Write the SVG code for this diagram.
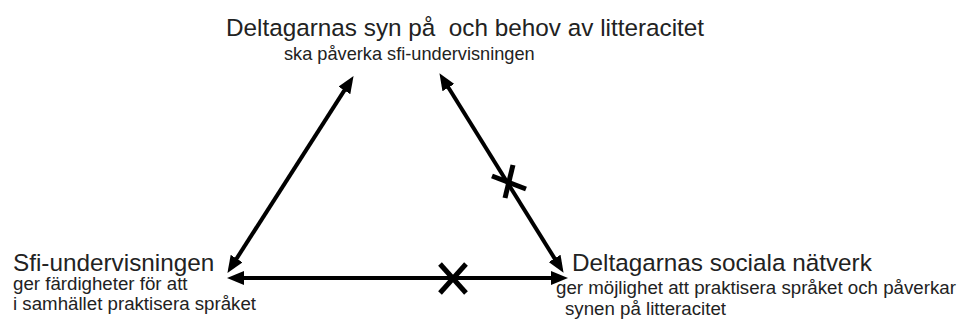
<svg xmlns="http://www.w3.org/2000/svg" width="963" height="322" viewBox="0 0 963 322">
<style>
.t{font-family:"Liberation Sans",Arial,sans-serif;fill:#222;white-space:pre}
.big{font-size:24.3px}
.sm{font-size:18.7px}
.ln{stroke:#000;stroke-width:4;fill:none}
.x{stroke:#000;stroke-width:5;fill:none}
</style>
<defs>
<marker id="ah" markerUnits="userSpaceOnUse" markerWidth="17" markerHeight="14" refX="8" refY="7" orient="auto-start-reverse">
<path d="M0,0 L17,7 L0,14 z" fill="#000"/>
</marker>
</defs>
<rect width="963" height="322" fill="#fff"/>
<g id="connectors">
<line class="ln" x1="348.7" y1="83.7" x2="232.3" y2="265.3" marker-start="url(#ah)" marker-end="url(#ah)"/>
<line class="ln" x1="444.2" y1="80.8" x2="558.8" y2="265.2" marker-start="url(#ah)" marker-end="url(#ah)"/>
<line class="ln" x1="236" y1="278" x2="559" y2="278" marker-start="url(#ah)" marker-end="url(#ah)"/>
<g id="cross-right">
<line class="x" x1="492" y1="176" x2="526" y2="189"/>
<line class="x" x1="513" y1="165" x2="505" y2="198"/>
</g>
<g id="cross-bottom">
<line class="x" x1="440" y1="264" x2="466" y2="293"/>
<line class="x" x1="466" y1="264" x2="440" y2="293"/>
</g>
</g>
<g id="node-top">
<text class="t big" x="226" y="36" xml:space="preserve">Deltagarnas syn på  och behov av litteracitet</text>
<text class="t sm" x="284" y="60" style="font-size:18.2px">ska påverka sfi-undervisningen</text>
</g>
<g id="node-left">
<text class="t big" x="13" y="271">Sfi-undervisningen</text>
<text class="t sm" x="13" y="290">ger färdigheter för att</text>
<text class="t sm" x="13" y="310">i samhället praktisera språket</text>
</g>
<g id="node-right">
<text class="t big" x="572" y="271">Deltagarnas sociala nätverk</text>
<text class="t sm" x="556" y="294">ger möjlighet att praktisera språket och påverkar</text>
<text class="t sm" x="565" y="315">synen på litteracitet</text>
</g>
</svg>
